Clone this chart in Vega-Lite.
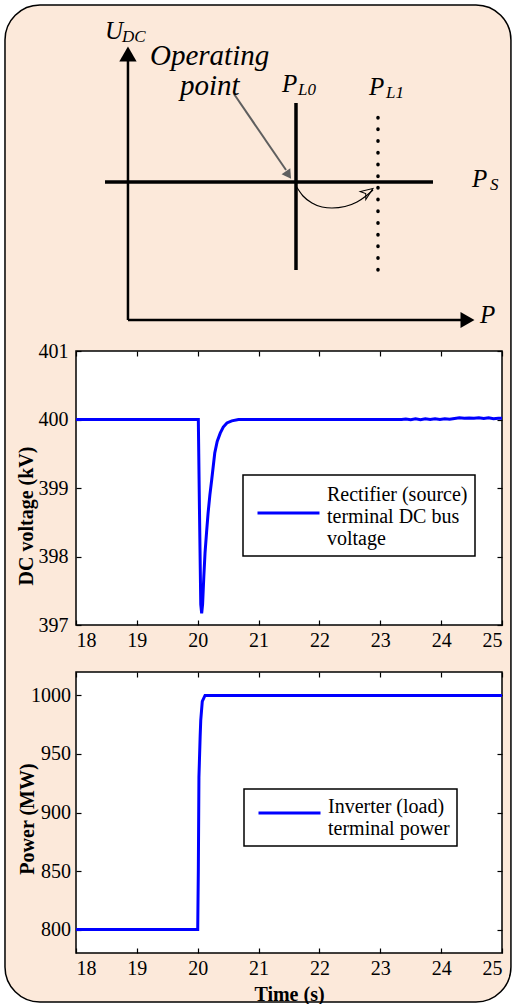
{
  "$schema": "https://vega.github.io/schema/vega-lite/v6.json",
  "background": "white",
  "padding": {"left": 4, "top": 4, "right": 0, "bottom": 0},
  "bounds": "flush",
  "spacing": 47,
  "config": {
    "font": "Liberation Serif",
    "view": {"stroke": "black", "strokeWidth": 1.5, "fill": "white"},
    "axis": {
      "grid": false, "domain": false, "tickColor": "black", "tickWidth": 1.2, "tickSize": -5,
      "labelColor": "black", "labelFont": "Liberation Serif", "labelFontSize": 20,
      "titleFont": "Liberation Serif", "titleFontSize": 20, "titleFontWeight": "bold", "titleColor": "black"
    }
  },
  "datasets": {
    "frame": [{"x1": -16.67, "x2": 102.1, "y1": -249.3, "y2": 106.8}],
    "segs": [
      {"seg": "Uaxis", "x1": 12.2, "y1": -5.71, "x2": 12.2, "y2": 87.5},
      {"seg": "Paxis", "x1": 12.2, "y1": -5.71, "x2": 90.6, "y2": -5.71},
      {"seg": "PS", "x1": 6.81, "y1": 43.57, "x2": 83.8, "y2": 43.57},
      {"seg": "PL0", "x1": 51.64, "y1": 12.14, "x2": 51.64, "y2": 71.79},
      {"seg": "PL1", "x1": 70.89, "y1": 12.14, "x2": 70.89, "y2": 68.93},
      {"seg": "pointer", "x1": 37.09, "y1": 75.0, "x2": 49.3, "y2": 47.86}
    ],
    "heads": [
      {"head": "up", "x": 12.2, "y": 89.29},
      {"head": "right", "x": 91.9, "y": -5.71},
      {"head": "pointer", "x": 49.88, "y": 46.07},
      {"head": "open", "x": 68.54, "y": 40.0}
    ],
    "curve": [
      {"x": 51.64, "y": 42.14}, {"x": 53.29, "y": 38.57}, {"x": 55.4, "y": 36.07},
      {"x": 57.75, "y": 34.64}, {"x": 60.09, "y": 34.29}, {"x": 63.15, "y": 34.82},
      {"x": 65.96, "y": 36.43}, {"x": 68.08, "y": 38.57}, {"x": 69.72, "y": 40.71}
    ],
    "labels": [
      {"txt": "U", "role": "main", "x": 6.81, "y": 94.64},
      {"txt": "DC", "role": "sub", "x": 10.8, "y": 93.57},
      {"txt": "Operating", "role": "note", "x": 17.37, "y": 85.36},
      {"txt": "point", "role": "note", "x": 24.41, "y": 74.64},
      {"txt": "P", "role": "main", "x": 48.36, "y": 75.71},
      {"txt": "L0", "role": "sub", "x": 52.11, "y": 74.64},
      {"txt": "P", "role": "main", "x": 68.78, "y": 74.64},
      {"txt": "L1", "role": "sub", "x": 72.77, "y": 73.57},
      {"txt": "P", "role": "main", "x": 92.96, "y": 41.79},
      {"txt": "S", "role": "sub", "x": 97.18, "y": 40.71},
      {"txt": "P", "role": "main", "x": 94.84, "y": -6.79}
    ],
    "volt": [
      {"t": 18, "v": 400}, {"t": 20.01, "v": 400}, {"t": 20.03, "v": 398.6}, {"t": 20.05, "v": 397.3},
      {"t": 20.065, "v": 397.17}, {"t": 20.08, "v": 397.3}, {"t": 20.1, "v": 397.7}, {"t": 20.12, "v": 398.05},
      {"t": 20.145, "v": 398.35}, {"t": 20.17, "v": 398.63}, {"t": 20.2, "v": 398.9}, {"t": 20.23, "v": 399.12},
      {"t": 20.28, "v": 399.51}, {"t": 20.32, "v": 399.68}, {"t": 20.37, "v": 399.8}, {"t": 20.42, "v": 399.89},
      {"t": 20.48, "v": 399.95}, {"t": 20.56, "v": 399.98}, {"t": 20.67, "v": 400}, {"t": 23.35, "v": 400},
      {"t": 23.42, "v": 400.008}, {"t": 23.5, "v": 399.997}, {"t": 23.58, "v": 400.009}, {"t": 23.66, "v": 399.997},
      {"t": 23.74, "v": 400.009}, {"t": 23.82, "v": 400}, {"t": 23.9, "v": 400.011}, {"t": 23.98, "v": 400.001},
      {"t": 24.06, "v": 400.012}, {"t": 24.14, "v": 400.005}, {"t": 24.22, "v": 400.016}, {"t": 24.3, "v": 400.025},
      {"t": 24.38, "v": 400.018}, {"t": 24.46, "v": 400.022}, {"t": 24.54, "v": 400.017}, {"t": 24.62, "v": 400.025},
      {"t": 24.7, "v": 400.014}, {"t": 24.78, "v": 400.024}, {"t": 24.86, "v": 400.01}, {"t": 24.94, "v": 400.018},
      {"t": 25, "v": 400.018}
    ],
    "power": [
      {"t": 18, "p": 800}, {"t": 20.0, "p": 800}, {"t": 20.01, "p": 850}, {"t": 20.02, "p": 930},
      {"t": 20.04, "p": 965}, {"t": 20.05, "p": 979}, {"t": 20.075, "p": 995}, {"t": 20.12, "p": 1000},
      {"t": 25, "p": 1000}
    ]
  },
  "resolve": {
    "scale": {"x": "independent", "y": "independent", "color": "independent"},
    "legend": {"color": "independent"}
  },
  "vconcat": [
    {
      "width": 426,
      "height": 280,
      "view": {"stroke": null, "fill": null},
      "layer": [
        {
          "data": {"name": "frame"},
          "mark": {"type": "rect", "fill": "#FCE9DA", "stroke": "black", "strokeWidth": 1.5, "cornerRadius": 35},
          "encoding": {
            "x": {"field": "x1", "type": "quantitative", "scale": {"domain": [0, 100]}, "axis": null},
            "x2": {"field": "x2"},
            "y": {"field": "y1", "type": "quantitative", "scale": {"domain": [0, 100]}, "axis": null},
            "y2": {"field": "y2"}
          }
        },
        {
          "data": {"name": "segs"},
          "transform": [{"filter": "datum.seg === 'Uaxis' || datum.seg === 'Paxis'"}],
          "mark": {"type": "rule", "color": "black", "strokeWidth": 2.5},
          "encoding": {
            "x": {"field": "x1", "type": "quantitative", "scale": {"domain": [0, 100]}, "axis": null},
            "x2": {"field": "x2"},
            "y": {"field": "y1", "type": "quantitative", "scale": {"domain": [0, 100]}, "axis": null},
            "y2": {"field": "y2"}
          }
        },
        {
          "data": {"name": "segs"},
          "transform": [{"filter": "datum.seg === 'PS' || datum.seg === 'PL0'"}],
          "mark": {"type": "rule", "color": "black", "strokeWidth": 3.5},
          "encoding": {
            "x": {"field": "x1", "type": "quantitative", "scale": {"domain": [0, 100]}, "axis": null},
            "x2": {"field": "x2"},
            "y": {"field": "y1", "type": "quantitative", "scale": {"domain": [0, 100]}, "axis": null},
            "y2": {"field": "y2"}
          }
        },
        {
          "data": {"name": "segs"},
          "transform": [{"filter": "datum.seg === 'PL1'"}],
          "mark": {"type": "rule", "color": "black", "strokeWidth": 3.5, "strokeCap": "round", "strokeDash": [0.5, 11.2]},
          "encoding": {
            "x": {"field": "x1", "type": "quantitative", "scale": {"domain": [0, 100]}, "axis": null},
            "x2": {"field": "x2"},
            "y": {"field": "y1", "type": "quantitative", "scale": {"domain": [0, 100]}, "axis": null},
            "y2": {"field": "y2"}
          }
        },
        {
          "data": {"name": "segs"},
          "transform": [{"filter": "datum.seg === 'pointer'"}],
          "mark": {"type": "rule", "color": "#5f5f5f", "strokeWidth": 2},
          "encoding": {
            "x": {"field": "x1", "type": "quantitative", "scale": {"domain": [0, 100]}, "axis": null},
            "x2": {"field": "x2"},
            "y": {"field": "y1", "type": "quantitative", "scale": {"domain": [0, 100]}, "axis": null},
            "y2": {"field": "y2"}
          }
        },
        {
          "data": {"name": "heads"},
          "transform": [{"filter": "datum.head === 'up'"}],
          "mark": {"type": "point", "shape": "triangle-up", "filled": true, "color": "black", "opacity": 1, "size": 300},
          "encoding": {
            "x": {"field": "x", "type": "quantitative", "scale": {"domain": [0, 100]}, "axis": null},
            "y": {"field": "y", "type": "quantitative", "scale": {"domain": [0, 100]}, "axis": null}
          }
        },
        {
          "data": {"name": "heads"},
          "transform": [{"filter": "datum.head === 'right'"}],
          "mark": {"type": "point", "shape": "triangle-right", "filled": true, "color": "black", "opacity": 1, "size": 260},
          "encoding": {
            "x": {"field": "x", "type": "quantitative", "scale": {"domain": [0, 100]}, "axis": null},
            "y": {"field": "y", "type": "quantitative", "scale": {"domain": [0, 100]}, "axis": null}
          }
        },
        {
          "data": {"name": "heads"},
          "transform": [{"filter": "datum.head === 'pointer'"}],
          "mark": {"type": "point", "shape": "triangle-up", "filled": true, "color": "#5f5f5f", "opacity": 1, "size": 110, "angle": 145.5},
          "encoding": {
            "x": {"field": "x", "type": "quantitative", "scale": {"domain": [0, 100]}, "axis": null},
            "y": {"field": "y", "type": "quantitative", "scale": {"domain": [0, 100]}, "axis": null}
          }
        },
        {
          "data": {"name": "curve"},
          "mark": {"type": "line", "color": "black", "strokeWidth": 1.2, "interpolate": "monotone"},
          "encoding": {
            "x": {"field": "x", "type": "quantitative", "scale": {"domain": [0, 100]}, "axis": null},
            "y": {"field": "y", "type": "quantitative", "scale": {"domain": [0, 100]}, "axis": null}
          }
        },
        {
          "data": {"name": "heads"},
          "transform": [{"filter": "datum.head === 'open'"}],
          "mark": {"type": "point", "shape": "M1,0L-1,-0.8L-0.45,0L-1,0.8Z", "filled": false, "stroke": "black", "strokeWidth": 1, "opacity": 1, "size": 150, "angle": -35},
          "encoding": {
            "x": {"field": "x", "type": "quantitative", "scale": {"domain": [0, 100]}, "axis": null},
            "y": {"field": "y", "type": "quantitative", "scale": {"domain": [0, 100]}, "axis": null}
          }
        },
        {
          "data": {"name": "labels"},
          "transform": [{"filter": "datum.role === 'main'"}],
          "mark": {"type": "text", "font": "Liberation Serif", "fontStyle": "italic", "fontSize": 25, "align": "left", "baseline": "alphabetic", "color": "black"},
          "encoding": {
            "x": {"field": "x", "type": "quantitative", "scale": {"domain": [0, 100]}, "axis": null},
            "y": {"field": "y", "type": "quantitative", "scale": {"domain": [0, 100]}, "axis": null},
            "text": {"field": "txt"}
          }
        },
        {
          "data": {"name": "labels"},
          "transform": [{"filter": "datum.role === 'sub'"}],
          "mark": {"type": "text", "font": "Liberation Serif", "fontStyle": "italic", "fontSize": 17, "align": "left", "baseline": "alphabetic", "color": "black"},
          "encoding": {
            "x": {"field": "x", "type": "quantitative", "scale": {"domain": [0, 100]}, "axis": null},
            "y": {"field": "y", "type": "quantitative", "scale": {"domain": [0, 100]}, "axis": null},
            "text": {"field": "txt"}
          }
        },
        {
          "data": {"name": "labels"},
          "transform": [{"filter": "datum.role === 'note'"}],
          "mark": {"type": "text", "font": "Liberation Serif", "fontStyle": "italic", "fontSize": 29, "align": "left", "baseline": "alphabetic", "color": "black"},
          "encoding": {
            "x": {"field": "x", "type": "quantitative", "scale": {"domain": [0, 100]}, "axis": null},
            "y": {"field": "y", "type": "quantitative", "scale": {"domain": [0, 100]}, "axis": null},
            "text": {"field": "txt"}
          }
        }
      ]
    },
    {
      "width": 426,
      "height": 274,
      "data": {"name": "volt"},
      "layer": [
        {
          "mark": {"type": "line", "strokeWidth": 3},
          "encoding": {
            "x": {"field": "t", "type": "quantitative", "scale": {"domain": [18, 25], "nice": false},
                  "axis": {"orient": "bottom", "values": [18, 19, 20, 21, 22, 23, 24, 25], "format": "d", "labelPadding": 10, "title": null}},
            "y": {"field": "v", "type": "quantitative", "scale": {"domain": [397, 401], "nice": false, "zero": false},
                  "axis": {"orient": "left", "values": [397, 398, 399, 400, 401], "format": "d", "labelPadding": 13,
                           "title": "DC voltage (kV)", "titleX": -44, "titleY": 164.5, "titleAngle": 270, "titleAlign": "center", "titleBaseline": "alphabetic"}},
            "color": {"datum": "Rectifier (source)|terminal  DC bus|voltage", "type": "nominal", "scale": {"range": ["#0000ff"]},
                      "legend": {"orient": "none", "legendX": 167, "legendY": 124, "title": null, "strokeColor": "black", "fillColor": "white",
                                 "padding": 7, "symbolType": "stroke", "symbolStrokeWidth": 3, "symbolSize": 3844, "symbolOffset": 6,
                                 "labelOffset": 6, "labelFont": "Liberation Serif", "labelFontSize": 20, "labelColor": "black", "labelLimit": 400,
                                 "labelExpr": "split(datum.label, '|')",
                                 "encode": {
                                   "legend": {"update": {"strokeWidth": {"value": 1.5}}},
                                   "symbols": {"update": {"y": {"value": 31}}},
                                   "labels": {"update": {"dy": {"value": -20}, "lineHeight": {"value": 22}}}
                                 }}}
          }
        },
        {
          "mark": {"type": "point", "opacity": 0},
          "encoding": {
            "x": {"field": "t", "type": "quantitative", "scale": {"domain": [18, 25], "nice": false},
                  "axis": {"orient": "top", "values": [18, 19, 20, 21, 22, 23, 24, 25], "labels": false, "title": null}},
            "y": {"field": "v", "type": "quantitative", "scale": {"domain": [397, 401], "nice": false, "zero": false},
                  "axis": {"orient": "right", "values": [397, 398, 399, 400, 401], "labels": false, "title": null}}
          }
        }
      ],
      "resolve": {"axis": {"x": "independent", "y": "independent"}}
    },
    {
      "width": 426,
      "height": 281,
      "data": {"name": "power"},
      "layer": [
        {
          "mark": {"type": "line", "strokeWidth": 3},
          "encoding": {
            "x": {"field": "t", "type": "quantitative", "scale": {"domain": [18, 25], "nice": false},
                  "axis": {"orient": "bottom", "values": [18, 19, 20, 21, 22, 23, 24, 25], "format": "d", "labelPadding": 10,
                           "title": "Time (s)", "titleY": 47, "titleBaseline": "alphabetic"}},
            "y": {"field": "p", "type": "quantitative", "scale": {"domain": [780, 1020], "nice": false, "zero": false},
                  "axis": {"orient": "left", "values": [800, 850, 900, 950, 1000], "format": "d", "labelPadding": 10.5,
                           "title": "Power (MW)", "titleX": -43, "titleY": 146.5, "titleAngle": 270, "titleAlign": "center", "titleBaseline": "alphabetic"}},
            "color": {"datum": "Inverter (load)|terminal power", "type": "nominal", "scale": {"range": ["#0000ff"]},
                      "legend": {"orient": "none", "legendX": 168, "legendY": 117, "title": null, "strokeColor": "black", "fillColor": "white",
                                 "padding": 7, "symbolType": "stroke", "symbolStrokeWidth": 3, "symbolSize": 3844, "symbolOffset": 6,
                                 "labelOffset": 6, "labelFont": "Liberation Serif", "labelFontSize": 20, "labelColor": "black", "labelLimit": 400,
                                 "labelExpr": "split(datum.label, '|')",
                                 "encode": {
                                   "legend": {"update": {"strokeWidth": {"value": 1.5}}},
                                   "symbols": {"update": {"y": {"value": 17}}},
                                   "labels": {"update": {"dy": {"value": -21.5}, "lineHeight": {"value": 22}}}
                                 }}}
          }
        },
        {
          "mark": {"type": "point", "opacity": 0},
          "encoding": {
            "x": {"field": "t", "type": "quantitative", "scale": {"domain": [18, 25], "nice": false},
                  "axis": {"orient": "top", "values": [18, 19, 20, 21, 22, 23, 24, 25], "labels": false, "title": null}},
            "y": {"field": "p", "type": "quantitative", "scale": {"domain": [780, 1020], "nice": false, "zero": false},
                  "axis": {"orient": "right", "values": [800, 850, 900, 950, 1000], "labels": false, "title": null}}
          }
        }
      ],
      "resolve": {"axis": {"x": "independent", "y": "independent"}}
    }
  ]
}
